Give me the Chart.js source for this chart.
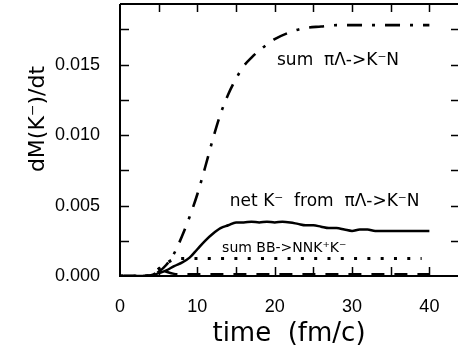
<!DOCTYPE html>
<html>
<head>
<meta charset="utf-8">
<script src="https://cdn.jsdelivr.net/npm/chart.js@4/dist/chart.umd.min.js"></script>
<style>
  html, body { margin: 0; padding: 0; background: #fff; }
  #wrap { width: 458px; height: 351px; }
</style>
</head>
<body>
<div id="wrap"><canvas id="chart" width="458" height="351"></canvas></div>
<script>
// sum piLambda -> K-N (dash-dot)
let sumPiLT = [0, 2, 4, 5, 6, 7, 8, 9, 10, 11, 12, 13, 14, 15, 16, 17, 18, 20, 22, 24, 26, 28, 30, 35, 40];
let sumPiLV = [0, 0, 0.00005, 0.0003, 0.0008, 0.0016, 0.0028, 0.0042, 0.0058, 0.0077, 0.0097, 0.0115, 0.0129, 0.0140, 0.0149, 0.0155, 0.0160, 0.0168, 0.0173, 0.0176, 0.0177, 0.0178, 0.0178, 0.0178, 0.0178];

// net K- from piLambda -> K-N (solid)
let netKT = [0.5, 2, 4, 5, 6, 7, 8, 9, 10, 11, 12, 13, 14, 15, 16, 17, 18, 19, 20, 21, 22, 23, 24, 25, 26, 27, 28, 29, 30, 31, 32, 33, 34, 36, 38, 40];
let netKV = [0, 0, 0.00002, 0.0002, 0.0004, 0.0007, 0.00095, 0.0013, 0.0019, 0.0025, 0.0030, 0.0034, 0.0036, 0.0038, 0.0038, 0.00385, 0.0038, 0.00385, 0.0038, 0.00385, 0.0038, 0.0037, 0.0036, 0.0036, 0.0035, 0.0034, 0.0034, 0.0033, 0.0032, 0.0033, 0.0033, 0.0032, 0.0032, 0.0032, 0.0032, 0.0032];

// sum BB -> NNK+K- (dotted)
let sumBBT = [0, 3, 4, 5, 6, 7, 8, 10, 15, 20, 25, 30, 35, 39];
let sumBBV = [0, 0, 0.00005, 0.0005, 0.0009, 0.0012, 0.00125, 0.00125, 0.00125, 0.00125, 0.00125, 0.00125, 0.00125, 0.00125];

// dashed, near zero
let dashT = [0, 3, 4, 5, 5.5, 6, 7, 8, 10, 15, 20, 25, 30, 35, 40];
let dashV = [0, 0, 0.00005, 0.0003, 0.0004, 0.0003, 0.00015, 0.00012, 0.00012, 0.00012, 0.00012, 0.00012, 0.00012, 0.00012, 0.00012];

let xTicks = [0, 10, 20, 30, 40];
let yTicks = [0, 0.005, 0.010, 0.015];

// annotation texts, anchored at [time, value] (left, baseline)
let notes = [
    { text: "sum  \u03c0\u039b->K\u207bN", at: [20.3, 0.01494], size: 17 },
    { text: "net K\u207b  from  \u03c0\u039b->K\u207bN", at: [14.2, 0.00496], size: 17 },
    { text: "sum BB->NNK\u207aK\u207b", at: [13.2, 0.0017], size: 14 }
];

function pts(t, v) {
    return t.map((x, i) => ({ x: x, y: v[i] }));
}

let framePlugin = {
    id: 'frame',
    afterDraw(chart) {
        let ctx = chart.ctx;
        let a = chart.chartArea;
        let xs = chart.scales.x, ys = chart.scales.y;
        ctx.save();
        ctx.strokeStyle = '#000';
        ctx.lineWidth = 2;
        ctx.beginPath();
        ctx.moveTo(a.left, a.top);
        ctx.lineTo(a.right + 2, a.top);
        ctx.moveTo(a.left, a.top);
        ctx.lineTo(a.left, a.bottom);
        ctx.lineTo(a.right + 2, a.bottom);
        ctx.stroke();
        ctx.lineWidth = 1.5;
        ctx.beginPath();
        for (let t = 5; t < xs.max; t += 5) {
            let px = Math.round(xs.getPixelForValue(t)) + 0.5;
            ctx.moveTo(px, a.bottom); ctx.lineTo(px, a.bottom - 9);
            ctx.moveTo(px, a.top); ctx.lineTo(px, a.top + 8);
        }
        for (let v = 0.0025; v < ys.max; v += 0.0025) {
            let py = Math.round(ys.getPixelForValue(v)) + 0.5;
            ctx.moveTo(a.left, py); ctx.lineTo(a.left + 9, py);
            ctx.moveTo(a.right, py); ctx.lineTo(a.right - 7, py);
        }
        ctx.stroke();

        ctx.fillStyle = '#000';
        ctx.textBaseline = 'alphabetic';
        ctx.textAlign = 'left';
        for (let n of notes) {
            ctx.font = n.size + "px 'DejaVu Sans'";
            ctx.fillText(n.text, xs.getPixelForValue(n.at[0]), ys.getPixelForValue(n.at[1]));
        }
        ctx.restore();
    }
};

let graph = new Chart(document.getElementById("chart"), {
    type: 'scatter',
    data: {
        datasets: [
            {
                data: pts(sumPiLT, sumPiLV),
                showLine: true,
                borderColor: '#000',
                borderWidth: 2.6,
                borderDash: [15, 10, 3, 10],
                pointRadius: 0,
                cubicInterpolationMode: 'monotone'
            },
            {
                data: pts(netKT, netKV),
                showLine: true,
                borderColor: '#000',
                borderWidth: 2.5,
                pointRadius: 0,
                cubicInterpolationMode: 'monotone'
            },
            {
                data: pts(sumBBT, sumBBV),
                showLine: true,
                borderColor: '#000',
                borderWidth: 3,
                borderDash: [3, 10.3],
                pointRadius: 0,
                cubicInterpolationMode: 'monotone'
            },
            {
                data: pts(dashT, dashV),
                showLine: true,
                borderColor: '#000',
                borderWidth: 2.5,
                borderDash: [13, 10],
                pointRadius: 0,
                cubicInterpolationMode: 'monotone'
            }
        ]
    },
    options: {
        responsive: false,
        animation: false,
        layout: { padding: { top: 4, right: 0, left: 0, bottom: 0 } },
        plugins: {
            legend: { display: false },
            tooltip: { enabled: false }
        },
        scales: {
            x: {
                type: 'linear',
                min: 0,
                max: 43.7,
                grid: { display: false },
                border: { display: false },
                afterFit: (s) => {
                    s.height = 75;
                    s.paddingLeft = 0; s.paddingRight = 0;
                    s.paddingTop = 0; s.paddingBottom = 0;
                },
                afterBuildTicks: (s) => { s.ticks = xTicks.map(v => ({ value: v })); },
                ticks: {
                    color: '#000',
                    padding: 12,
                    maxRotation: 0,
                    font: { family: "'Liberation Sans'", size: 18 },
                    callback: (v) => String(v)
                },
                title: {
                    display: true,
                    text: 'time  (fm/c)',
                    color: '#000',
                    font: { family: "'DejaVu Sans'", size: 26 },
                    padding: { top: 0, bottom: 1 }
                }
            },
            y: {
                type: 'linear',
                min: 0,
                max: 0.0193,
                grid: { display: false },
                border: { display: false },
                afterFit: (s) => {
                    s.width = 120;
                    s.paddingLeft = 0; s.paddingRight = 0;
                    s.paddingTop = 0; s.paddingBottom = 0;
                },
                afterBuildTicks: (s) => { s.ticks = yTicks.map(v => ({ value: v })); },
                ticks: {
                    color: '#000',
                    padding: 12,
                    font: { family: "'Liberation Sans'", size: 18 },
                    callback: (v) => v.toFixed(3)
                },
                title: {
                    display: true,
                    text: '      dM(K\u207b)/dt',
                    color: '#000',
                    font: { family: "'DejaVu Sans'", size: 22 },
                    padding: { top: 25, bottom: 0 }
                }
            }
        }
    },
    plugins: [framePlugin]
});
</script>
</body>
</html>
